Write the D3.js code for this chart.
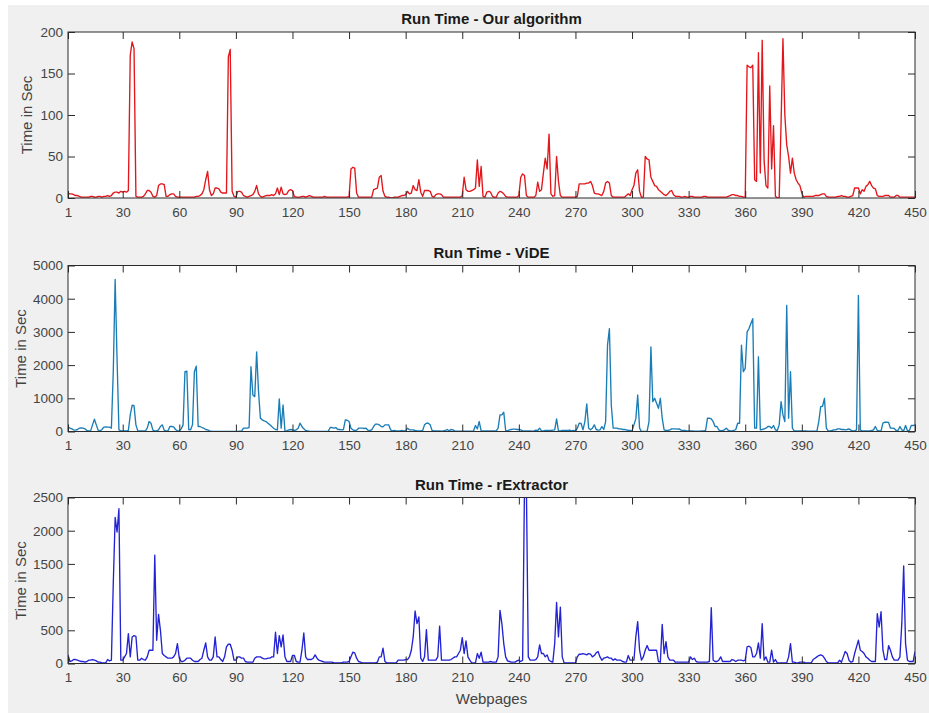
<!DOCTYPE html>
<html>
<head>
<meta charset="utf-8">
<script src="https://cdn.jsdelivr.net/npm/d3@7"></script>
<style>
  body { margin: 0; background: #fff; }
  svg { display: block; font-family: "Liberation Sans", Arial, sans-serif; }
</style>
</head>
<body>
<div id="chart"></div>
<script>
// DATA: run time per webpage (1..450), one row per 30 pages
const xTicks = [1, 30, 60, 90, 120, 150, 180, 210, 240, 270, 300, 330, 360, 390, 420, 450];

const runTimeOurs = [
  6,5,5,4,3,3,2,1,1,1,1,1,2,2,1,1,2,2,1,2,2,3,2,3,6,7,7,6,8,7,
  8,7,9,172,188,180,2,1,1,1,2,5,9,9,7,2,1,3,15,17,17,16,2,2,4,5,5,2,1,1,
  1,1,1,1,1,1,1,1,2,2,3,5,10,22,32,10,3,5,12,12,11,7,6,6,6,170,179,8,2,1,
  8,8,7,3,2,1,2,3,4,8,15,5,2,1,2,3,3,3,4,3,5,12,4,13,5,4,5,9,10,9,
  2,1,1,1,2,2,1,2,3,2,1,1,1,1,1,1,2,1,1,1,1,1,1,1,1,1,1,1,1,2,
  35,37,36,6,1,1,1,1,1,1,1,1,10,11,12,25,27,8,2,1,1,0,0,1,1,1,2,3,3,4,
  8,5,6,15,10,9,22,7,2,9,9,9,8,2,1,4,5,5,4,1,1,1,1,1,1,1,1,1,1,3,
  25,10,8,8,9,10,12,46,14,38,2,1,7,8,7,2,1,1,6,8,7,5,2,1,1,1,1,1,1,3,
  25,29,27,3,1,1,1,1,3,19,8,10,30,48,35,77,5,2,3,50,20,3,1,1,1,1,1,1,1,1,
  2,17,17,17,17,18,18,20,15,6,5,5,4,3,8,18,20,18,3,1,1,1,1,1,1,1,3,5,3,10,
  15,30,34,8,1,1,50,47,46,25,20,15,14,10,8,6,4,3,5,8,9,4,2,2,2,1,1,2,1,1,
  2,2,1,1,1,1,1,2,2,1,1,1,1,1,1,1,1,1,1,1,2,3,4,4,3,3,2,2,1,1,
  160,158,157,160,22,20,175,30,190,45,15,12,135,35,87,2,0,0,90,192,100,64,50,30,48,30,22,18,15,6,
  1,2,2,2,2,2,3,3,3,4,5,5,2,1,1,1,1,1,2,2,3,2,2,1,1,2,3,12,12,12,
  5,10,8,14,16,20,15,12,11,3,2,2,2,3,3,3,1,1,1,3,3,1,1,1,1,1,1,1,1,1
];

const runTimeViDE = [
  150,100,80,50,40,60,100,110,100,80,30,20,20,200,370,200,40,20,60,130,140,130,130,100,1800,4580,2200,50,20,20,
  20,20,30,500,790,780,200,20,20,20,20,20,100,300,250,40,20,20,50,150,200,40,20,20,150,150,140,60,20,20,
  80,200,1800,1820,60,50,200,1800,1970,150,150,120,100,60,50,20,10,5,5,5,5,5,5,5,5,5,5,5,5,5,
  5,10,10,100,100,100,120,1950,1100,1050,2400,1200,400,350,320,300,250,200,150,100,60,50,980,100,800,20,20,50,60,50,
  30,50,100,250,150,80,30,20,10,5,5,5,5,5,5,5,5,5,10,120,120,100,120,60,60,50,60,350,340,300,
  100,50,30,40,100,100,100,90,100,40,30,50,150,220,220,200,150,140,200,200,200,50,20,30,20,20,20,30,20,20,
  100,50,50,50,30,20,20,20,30,200,250,250,200,30,20,20,20,20,10,20,30,60,20,60,50,20,10,10,10,10,
  10,10,10,10,10,20,180,80,300,20,20,20,20,20,20,20,20,20,100,500,500,580,30,20,50,60,70,70,60,60,
  50,20,20,20,20,20,10,20,40,30,100,20,20,30,30,30,30,40,50,380,20,20,30,30,30,30,40,20,30,20,
  100,250,240,50,300,830,100,50,100,200,60,40,50,150,60,300,2600,3100,800,100,100,100,80,80,60,60,50,30,30,20,
  200,380,1100,100,0,0,0,10,300,2550,900,1000,850,700,1000,400,50,30,30,50,80,80,80,70,80,40,30,30,20,20,
  20,20,10,10,10,10,20,20,30,400,400,380,300,150,150,50,20,30,50,100,40,20,20,30,60,250,250,2600,1800,1900,
  3000,3100,3250,3400,100,100,2250,50,60,80,100,150,150,100,180,50,30,200,900,500,300,3800,400,1800,100,20,20,20,20,20,
  20,20,10,10,10,10,10,10,300,750,760,1000,100,20,20,30,50,50,80,80,60,60,50,60,80,40,20,20,50,4100,
  50,20,20,20,20,20,30,50,150,30,20,20,250,280,280,270,100,100,90,30,30,150,50,20,180,20,30,180,180,200
];

const runTimeRExtractor = [
  130,30,40,60,60,50,40,30,30,20,30,50,50,60,50,40,20,20,10,10,10,60,40,50,1200,2200,1980,2330,50,50,
  100,150,450,100,400,420,410,50,50,80,60,50,100,200,200,200,1630,350,740,500,150,120,100,80,80,80,100,150,300,80,
  30,30,50,80,80,80,50,30,30,30,60,80,200,310,100,50,50,100,400,100,100,60,30,100,250,290,290,200,50,50,
  100,100,80,80,30,20,20,20,20,80,100,100,100,80,70,70,80,80,100,100,470,150,420,250,430,100,30,30,30,120,
  120,30,20,20,200,460,100,60,60,60,80,130,80,50,40,30,20,20,20,20,20,10,10,10,10,10,20,20,20,30,
  100,170,160,80,30,20,10,10,10,10,10,10,10,10,20,100,100,230,30,10,10,10,10,10,10,50,50,50,50,60,
  60,100,200,400,790,600,700,80,30,100,510,50,50,50,50,50,100,563,50,50,50,50,50,60,80,100,100,150,200,390,
  150,340,100,50,10,10,10,150,80,170,20,20,20,20,30,20,20,20,100,800,600,300,100,40,30,20,20,20,40,50,
  30,50,2700,2650,100,50,50,50,60,100,280,150,150,100,130,50,30,20,300,920,400,850,100,10,10,10,10,10,10,10,
  100,140,140,150,140,130,150,140,100,120,160,180,100,50,80,90,100,80,80,50,70,50,50,50,30,20,20,120,50,50,
  50,400,630,200,50,100,200,270,200,200,200,200,200,30,20,590,150,330,100,50,50,50,20,20,20,20,20,20,20,20,
  100,60,80,30,20,20,20,20,20,20,30,840,50,30,30,50,100,30,30,30,30,30,60,50,30,50,50,50,40,50,
  250,260,240,100,100,150,310,80,600,50,100,20,20,200,20,60,10,10,10,10,10,10,100,300,20,20,10,10,20,20,
  20,10,10,10,10,60,80,100,120,130,120,80,30,10,10,10,10,10,10,50,20,100,180,150,50,20,30,150,250,350,
  200,180,150,100,80,50,30,30,30,750,550,780,200,60,60,270,200,100,50,50,50,100,600,1470,300,50,30,30,30,180
];

const panelTitles = ["Run Time - Our algorithm", "Run Time - ViDE", "Run Time - rExtractor"];
const panelSeries = [runTimeOurs, runTimeViDE, runTimeRExtractor];
const yTickSets = [
  [0, 50, 100, 150, 200],
  [0, 1000, 2000, 3000, 4000, 5000],
  [0, 500, 1000, 1500, 2000, 2500]
];
const yLabel = "Time in Sec";
const xLabel = "Webpages";

// LAYOUT
const W = 929, H = 713;
const plotLeft = 68, plotRight = 915, plotH = 166;
const panelTops = [32, 265.5, 497.5];
const lineColors = ["#e3161b", "#1b7db6", "#2323d4"];
const ylabelX = [27, 21, 21];
const axisColor = "#2b2b2b";
const textColor = "#444";

const svg = d3.select("#chart")
  .append("svg")
  .attr("width", W)
  .attr("height", H);

// figure background
svg.append("rect")
  .attr("x", 8).attr("y", 5)
  .attr("width", W - 8).attr("height", H - 5)
  .attr("fill", "#f0f0f0");

const x = d3.scaleLinear().domain([1, 450]).range([plotLeft, plotRight]);

panelSeries.forEach((series, p) => {
  const top = panelTops[p];
  const yTicks = yTickSets[p];
  const y = d3.scaleLinear()
    .domain([0, yTicks[yTicks.length - 1]])
    .range([top + plotH, top]);

  const g = svg.append("g");

  // white plot area
  g.append("rect")
    .attr("x", plotLeft).attr("y", top)
    .attr("width", plotRight - plotLeft).attr("height", plotH)
    .attr("fill", "#fff");

  // clip so spikes stay inside the box
  svg.append("clipPath").attr("id", "clip" + p)
    .append("rect")
    .attr("x", plotLeft).attr("y", top)
    .attr("width", plotRight - plotLeft).attr("height", plotH);

  const line = d3.line()
    .x((d, i) => x(i + 1))
    .y(d => y(d));

  g.append("path")
    .datum(series)
    .attr("clip-path", `url(#clip${p})`)
    .attr("fill", "none")
    .attr("stroke", lineColors[p])
    .attr("stroke-width", 1.35)
    .attr("stroke-linejoin", "round")
    .attr("d", line);

  // AXES (inward ticks on all four sides, like matlab)
  g.append("g")
    .attr("transform", `translate(0,${top + plotH})`)
    .call(d3.axisBottom(x).tickValues(xTicks).tickSize(-7).tickSizeOuter(0).tickPadding(9));
  g.append("g")
    .attr("transform", `translate(0,${top})`)
    .call(d3.axisTop(x).tickValues(xTicks).tickSize(-7).tickSizeOuter(0).tickFormat(""));
  g.append("g")
    .attr("transform", `translate(${plotLeft},0)`)
    .call(d3.axisLeft(y).tickValues(yTicks).tickSize(-7).tickSizeOuter(0).tickPadding(5).tickFormat(d3.format("d")));
  g.append("g")
    .attr("transform", `translate(${plotRight},0)`)
    .call(d3.axisRight(y).tickValues(yTicks).tickSize(-7).tickSizeOuter(0).tickFormat(""));

  g.selectAll(".domain").remove();
  g.selectAll(".tick line").attr("stroke", axisColor);
  g.selectAll(".tick text")
    .attr("fill", textColor)
    .attr("font-size", "13.5px")
    .attr("font-family", "Liberation Sans, Arial, sans-serif");

  // box
  g.append("rect")
    .attr("x", plotLeft).attr("y", top)
    .attr("width", plotRight - plotLeft).attr("height", plotH)
    .attr("fill", "none")
    .attr("stroke", axisColor)
    .attr("stroke-width", 1);

  // TITLE
  g.append("text")
    .attr("x", (plotLeft + plotRight) / 2)
    .attr("y", top - 8)
    .attr("text-anchor", "middle")
    .attr("font-size", "15px")
    .attr("font-weight", "bold")
    .attr("fill", "#1a1a1a")
    .text(panelTitles[p]);

  // Y LABEL
  g.append("text")
    .attr("transform", `translate(${ylabelX[p]},${top + plotH / 2}) rotate(-90)`)
    .attr("text-anchor", "middle")
    .attr("dy", "0.35em")
    .attr("font-size", "15px")
    .attr("fill", textColor)
    .text(yLabel);
});

// X LABEL (bottom panel only)
svg.append("text")
  .attr("x", (plotLeft + plotRight) / 2)
  .attr("y", 704)
  .attr("text-anchor", "middle")
  .attr("font-size", "15px")
  .attr("fill", textColor)
  .text(xLabel);
</script>
</body>
</html>
